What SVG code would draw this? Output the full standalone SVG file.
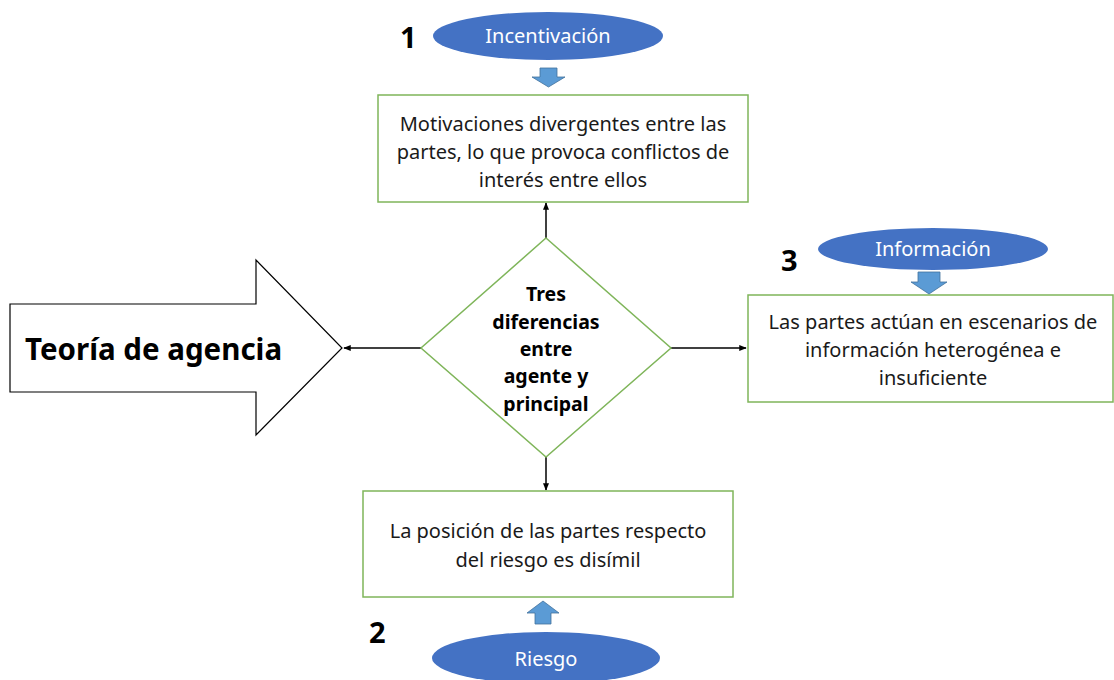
<svg xmlns="http://www.w3.org/2000/svg" width="1114" height="680" viewBox="0 0 1114 680">
<defs>
<style>
.box{fill:#fff;stroke:#7fb55a;stroke-width:1.5}
.t{font-family:"Noto Sans","Open Sans",sans-serif;font-size:20px;fill:#1a1a1a;text-anchor:middle}
.b{font-family:"Noto Sans","Open Sans",sans-serif;font-weight:bold;font-size:19.5px;fill:#000;text-anchor:middle}
.ell{fill:#4472c4}
.et{font-family:"Noto Sans","Open Sans",sans-serif;font-size:20px;fill:#fff;text-anchor:middle}
.num{font-family:"Noto Sans","Open Sans",sans-serif;font-weight:bold;font-size:29px;fill:#000}
.blk{fill:#5b9bd5;stroke:#41719c;stroke-width:0.8}
.conn{stroke:#000;stroke-width:1.5;fill:none;marker-end:url(#ah)}
</style>
<marker id="ah" viewBox="0 0 10 10" refX="9" refY="5" markerWidth="5" markerHeight="5" orient="auto" markerUnits="strokeWidth">
<path d="M0,1 L10,5 L0,9 z" fill="#000"/>
</marker>
</defs>
<rect width="1114" height="680" fill="#fff"/>
<g id="connectors">
<line class="conn" x1="546" y1="238" x2="546" y2="203"/>
<line class="conn" x1="421" y1="348" x2="344" y2="348"/>
<line class="conn" x1="671" y1="348" x2="746" y2="348"/>
<line class="conn" x1="546" y1="457" x2="546" y2="490"/>
</g>
<g id="teoria">
<path d="M10,304 L256,304 L256,260 L342,348 L256,435 L256,392 L10,392 Z" fill="#fff" stroke="#000" stroke-width="1.2"/>
<text class="num" x="25" y="360" style="font-size:29.5px">Teoría de agencia</text>
</g>
<g id="diamond">
<path d="M546,238 L671,348 L546,457 L421,348 Z" fill="#fff" stroke="#7fb55a" stroke-width="1.5"/>
<text class="b" x="546" y="301">Tres</text>
<text class="b" x="546" y="329">diferencias</text>
<text class="b" x="546" y="356">entre</text>
<text class="b" x="546" y="383">agente y</text>
<text class="b" x="546" y="411">principal</text>
</g>
<g id="box1">
<rect class="box" x="378" y="95" width="370" height="107"/>
<text class="t" x="563" y="131">Motivaciones divergentes entre las</text>
<text class="t" x="563" y="159">partes, lo que provoca conflictos de</text>
<text class="t" x="563" y="187">interés entre ellos</text>
</g>
<g id="incentivacion">
<text class="num" x="400" y="48">1</text>
<ellipse class="ell" cx="548" cy="36" rx="115" ry="24"/>
<text class="et" x="548" y="43">Incentivación</text>
<path class="blk" d="M540,68 L557,68 L557,77 L565,77 L548.5,87 L532,77 L540,77 Z"/>
</g>
<g id="box3">
<rect class="box" x="748" y="295" width="365" height="107"/>
<text class="t" x="933" y="329">Las partes actúan en escenarios de</text>
<text class="t" x="933" y="357">información heterogénea e</text>
<text class="t" x="933" y="385">insuficiente</text>
</g>
<g id="informacion">
<text class="num" x="781" y="271">3</text>
<ellipse class="ell" cx="933" cy="249" rx="115" ry="21"/>
<text class="et" x="933" y="256">Información</text>
<path class="blk" d="M918,272 L940,272 L940,282 L947,282 L929,294 L911,282 L918,282 Z"/>
</g>
<g id="box2">
<rect class="box" x="363" y="491" width="370" height="106"/>
<text class="t" x="548" y="538">La posición de las partes respecto</text>
<text class="t" x="548" y="567">del riesgo es disímil</text>
</g>
<g id="riesgo">
<text class="num" x="369" y="643">2</text>
<ellipse class="ell" cx="546" cy="658" rx="114" ry="26"/>
<text class="et" x="546" y="666">Riesgo</text>
<path class="blk" d="M543,601 L559,613 L551,613 L551,624 L535,624 L535,613 L527,613 Z"/>
</g>
</svg>
